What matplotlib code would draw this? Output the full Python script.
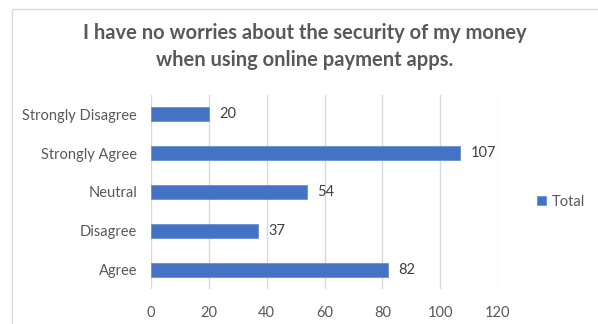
import matplotlib
matplotlib.use("Agg")
import matplotlib.pyplot as plt
from matplotlib.patches import Rectangle

categories = ["Agree", "Disagree", "Neutral", "Strongly Agree", "Strongly Disagree"]
values = [82, 37, 54, 107, 20]
xticks = [0, 20, 40, 60, 80, 100, 120]
series_name = "Total"
title = "I have no worries about the security of my money\nwhen using online payment apps."

plt.rcParams['font.family'] = ['Lato', 'DejaVu Sans']

fig = plt.figure(figsize=(5.98, 3.24), dpi=100)
fig.patch.set_facecolor('white')
# chart border
fig.patches.append(Rectangle((12/598, -0.1), 1.0, 1 - 9/324 + 0.1, transform=fig.transFigure,
                             fill=False, edgecolor='#d9d9d9', linewidth=1.0))

ax = fig.add_axes([151/598, 1 - 289/324, (498 - 151)/598, (289 - 95)/324])
y = list(range(len(categories)))
bars = ax.barh(y, values, height=0.36, color='#4472c4', edgecolor='#6a8fd4', linewidth=0.6,
               label=series_name, zorder=3)
ax.set_xlim(0, 120)
ax.set_ylim(-0.5, len(categories) - 0.5)
ax.set_xticks(xticks)
ax.set_yticks(y)
ax.set_yticklabels(categories)
ax.grid(axis='x', color='#d9d9d9', linewidth=1.0, zorder=0)
for s in ax.spines.values():
    s.set_visible(False)
ax.tick_params(axis='both', length=0, labelsize=10.5, colors='#595959')
ax.tick_params(axis='x', pad=12)
ax.tick_params(axis='y', pad=10)
for b, v in zip(bars, values):
    ax.text(v + 3.5, b.get_y() + b.get_height() / 2, str(v), va='center', ha='left',
            fontsize=10.5, color='#404040')

fig.text(305/598, 1 - 46.5/324, title, ha='center', va='center',
         fontsize=14.5, fontweight='bold', color='#595959', linespacing=1.45)

leg = fig.legend(handles=[bars], labels=[series_name], loc='center left',
                 bbox_to_anchor=(530/598, 1 - 202/324), frameon=False, fontsize=10.5,
                 handlelength=0.6, handleheight=0.6, handletextpad=0.4, borderpad=0)
for t in leg.get_texts():
    t.set_color('#595959')

fig.savefig("out.png", dpi=100)
